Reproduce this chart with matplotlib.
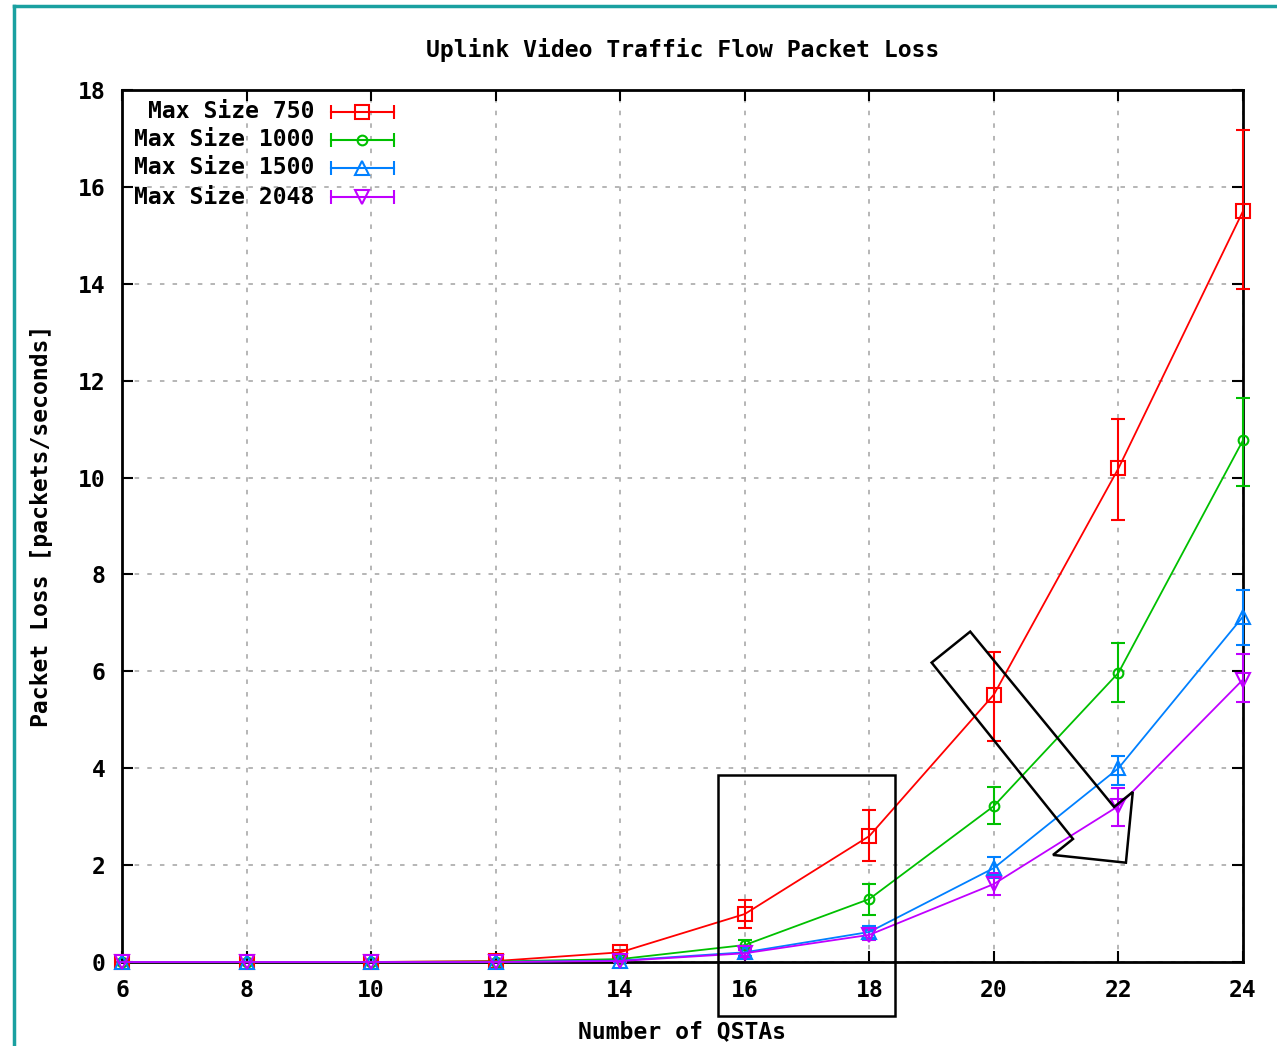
import matplotlib
matplotlib.use("Agg")
import matplotlib.pyplot as plt
from matplotlib.patches import Polygon, Rectangle
from matplotlib.lines import Line2D

plt.rcParams['font.family'] = ['DejaVu Sans Mono']
plt.rcParams['font.weight'] = 'bold'

# number of QSTAs
qstas = [6, 8, 10, 12, 14, 16, 18, 20, 22, 24]

# packet loss per max size, with error bar ends (low / high)
loss_750 = [0, 0, 0, 0.02, 0.2, 0.99, 2.6, 5.52, 10.19, 15.5]
low_750 = [0, 0, 0, 0.02, 0.15, 0.70, 2.09, 4.57, 9.13, 13.9]
high_750 = [0, 0, 0, 0.02, 0.25, 1.28, 3.14, 6.40, 11.2, 17.17]

loss_1000 = [0, 0, 0, 0.01, 0.06, 0.35, 1.3, 3.22, 5.97, 10.77]
low_1000 = [0, 0, 0, 0.01, 0.04, 0.25, 0.97, 2.85, 5.37, 9.82]
high_1000 = [0, 0, 0, 0.01, 0.08, 0.45, 1.61, 3.62, 6.59, 11.65]

loss_1500 = [0, 0, 0, 0, 0.03, 0.2, 0.62, 1.94, 4.0, 7.13]
low_1500 = [0, 0, 0, 0, 0.01, 0.12, 0.50, 1.74, 3.66, 6.55]
high_1500 = [0, 0, 0, 0, 0.05, 0.28, 0.74, 2.17, 4.26, 7.67]

loss_2048 = [0, 0, 0, 0, 0.02, 0.18, 0.56, 1.61, 3.22, 5.83]
low_2048 = [0, 0, 0, 0, 0.01, 0.11, 0.45, 1.38, 2.81, 5.37]
high_2048 = [0, 0, 0, 0, 0.03, 0.25, 0.67, 1.84, 3.60, 6.36]

labels = ['Max Size 750', 'Max Size 1000', 'Max Size 1500', 'Max Size 2048']
colors = ['#ff0000', '#00c000', '#0080ff', '#c000ff']
markers = ['s', 'o', '^', 'v']
msizes = [10, 7, 10, 10]

series = [(loss_750, low_750, high_750),
          (loss_1000, low_1000, high_1000),
          (loss_1500, low_1500, high_1500),
          (loss_2048, low_2048, high_2048)]

# hand drawn marks on the chart (data coords)
box = (15.57, -1.12, 18.41 - 15.57, 3.85 + 1.12)
arrow = [(19.62, 6.82), (19.0, 6.18), (21.27, 2.54), (20.95, 2.21),
         (22.12, 2.05), (22.23, 3.51), (21.93, 3.20)]

FS = 16.6

fig = plt.figure(figsize=(12.77, 10.46), dpi=100)
ax = fig.add_axes([122 / 1277, 1 - 962 / 1046, (1243 - 122) / 1277, (962 - 90) / 1046])

for (y, lo, hi), c, m, ms in zip(series, colors, markers, msizes):
    err = [[v - l for v, l in zip(y, lo)], [h - v for v, h in zip(y, hi)]]
    ax.errorbar(qstas, y, yerr=err, color=c, marker=m, markersize=ms,
                mfc='none', mec=c, mew=1.5, lw=1.3, elinewidth=1.5,
                capsize=5, capthick=1.5, clip_on=False, zorder=3)

ax.set_xlim(6, 24)
ax.set_ylim(0, 18)
ax.set_xticks(range(6, 25, 2))
ax.set_yticks(range(0, 19, 2))
ax.grid(True, color='#b0b0b0', linestyle=(0, (2.5, 4.5)), lw=1.3)
ax.tick_params(direction='in', length=8, width=1.5, top=True, right=True,
               labelsize=FS, pad=12)
for s in ax.spines.values():
    s.set_linewidth(2)

ax.set_title('Uplink Video Traffic Flow Packet Loss', fontsize=FS,
             fontweight='bold', pad=24)
ax.set_xlabel('Number of QSTAs', fontsize=FS, fontweight='bold', labelpad=13)
ax.set_ylabel('Packet Loss [packets/seconds]', fontsize=FS,
              fontweight='bold', labelpad=18)

# gnuplot style key
key_y = [112, 140, 168, 197]
for lab, c, m, ms, py in zip(labels, colors, markers, msizes, key_y):
    yy = 1 - py / 1046
    fig.text(314 / 1277, yy, lab, ha='right', va='center', fontsize=FS,
             fontweight='bold')
    fig.add_artist(Line2D([331 / 1277, 394 / 1277], [yy, yy], color=c, lw=1.5,
                          marker='|', markersize=10, mew=1.5))
    fig.add_artist(Line2D([362 / 1277], [yy], color=c, marker=m, markersize=ms,
                          mfc='none', mec=c, mew=1.5, linestyle='none'))

ax.add_patch(Rectangle(box[:2], box[2], box[3], fill=False, ec='black',
                       lw=1.8, clip_on=False, zorder=5))
ax.add_patch(Polygon(arrow, closed=True, fill=False, ec='black', lw=1.8,
                     clip_on=False, zorder=5))

# teal frame on top / left
fig.add_artist(Line2D([14 / 1277, 14 / 1277], [0, 1 - 6 / 1046], color='#1aa0a0', lw=2.5))
fig.add_artist(Line2D([14 / 1277, 1], [1 - 6 / 1046, 1 - 6 / 1046], color='#1aa0a0', lw=2.5))

fig.savefig('out.png', dpi=100)
